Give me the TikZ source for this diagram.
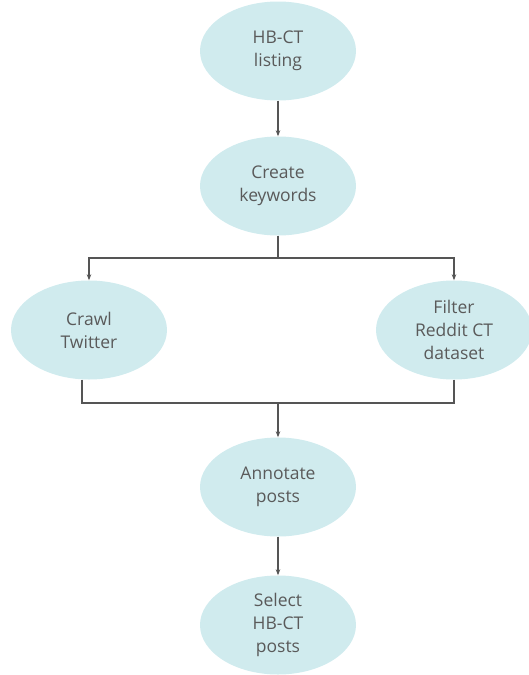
\documentclass[tikz,border=0pt]{standalone}
\usepackage{fontspec}
\setmainfont{Open Sans}
\usetikzlibrary{shapes.geometric,arrows.meta}
\definecolor{stepfill}{HTML}{D0EBEE}
\definecolor{linegray}{HTML}{555555}
\definecolor{textgray}{HTML}{5A5A5A}
\tikzset{
  stepnode/.style={ellipse, fill=stepfill, minimum width=156pt, minimum height=99pt,
    inner sep=0pt, align=center, text=textgray, font=\fontsize{17.5}{23}\selectfont},
  flow/.style={draw=linegray, line width=1.1pt},
  arr/.style={flow, -{Stealth[length=6pt,width=4.5pt]}}
}
\begin{document}
\begin{tikzpicture}[x=1pt, y=-1pt]
  \useasboundingbox (0,0) rectangle (529,675);

  % Steps
  \node[stepnode] (listing) at (278, 51) {HB-CT\\listing};
  \node[stepnode] (keywords) at (278, 186) {Create\\keywords};
  \node[stepnode] (crawl) at (89, 330) {Crawl\\Twitter};
  \node[stepnode] (reddit) at (454, 330) {Filter\\Reddit CT\\dataset};
  \node[stepnode] (annotate) at (278, 487) {Annotate\\posts};
  \node[stepnode] (select) at (278, 625) {Select\\HB-CT\\posts};

  % Split
  \coordinate (split) at (278, 258);
  \coordinate (join) at (278, 403);

  \draw[arr] (listing) -- (keywords);
  \draw[flow] (keywords) -- (split);
  \draw[arr] (split) -| (crawl);
  \draw[arr] (split) -| (reddit);

  % Merge
  \draw[flow] ([xshift=-7pt]crawl.south) |- (join);
  \draw[flow] (reddit.south) |- (join);
  \draw[arr] (join) -- (annotate);
  \draw[arr] (annotate) -- (select);
\end{tikzpicture}
\end{document}
